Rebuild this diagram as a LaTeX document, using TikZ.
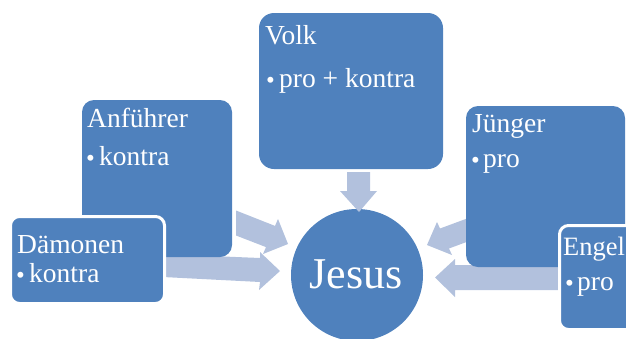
\documentclass[tikz,border=0pt]{standalone}
\usepackage{fontspec}
\setmainfont{Liberation Serif}
\definecolor{boxblue}{RGB}{79,129,189}
\definecolor{arrowblue}{RGB}{178,193,221}
\begin{document}
\begin{tikzpicture}[x=1pt,y=-1pt,
  bluebox/.style={fill=boxblue, draw=none, inner sep=0pt, outer sep=0pt, anchor=north west},
  framedbox/.style={fill=boxblue, draw=white, line width=3pt, inner sep=0pt, outer sep=0pt, anchor=north west, rounded corners=9pt},
  blockarrow/.style={fill=arrowblue, draw=none},
  label/.style={text=white, inner sep=0pt, anchor=base west, font=\fontsize{27.5}{30}\selectfont},
  bul/.style={text=white, inner sep=0pt, anchor=base west, font=\fontsize{25}{27}\selectfont},
  centre/.style={text=white, inner sep=0pt, anchor=base, font=\fontsize{44}{48}\selectfont}]
\useasboundingbox (0,0) rectangle (626,338);
\clip (0,0) rectangle (626,338);
% central circle
\node[circle, fill=boxblue, minimum size=132pt, inner sep=0pt] (jesuscircle) at (357,275) {};
% block arrows
\fill[blockarrow] (347,172) -- (370,172) -- (370,191) -- (377,191) -- (359,212) -- (340,191) -- (347,191) -- cycle;
\fill[blockarrow] (236,210.5) -- (275,225.9) -- (278,219) -- (288,244) -- (263,254) -- (266,247.1) -- (236,235.5) -- cycle;
\fill[blockarrow] (163,254) -- (260,258) -- (260,252) -- (280,271) -- (259,290) -- (260,282) -- (163,277) -- cycle;
\fill[blockarrow] (470,217.4) -- (440,228.5) -- (437,222) -- (427,245) -- (452,255) -- (449,248.5) -- (470,240.7) -- cycle;
\fill[blockarrow] (565,265) -- (455,265) -- (455,259) -- (435,277.5) -- (455,297) -- (455,290) -- (565,290) -- cycle;
% boxes
\node[bluebox, rounded corners=15pt, minimum width=184pt, minimum height=156pt] (volk) at (259,13) {};
\node[bluebox, rounded corners=12pt, minimum width=150pt, minimum height=157pt] (anf) at (82,100) {};
\node[bluebox, rounded corners=12pt, minimum width=159pt, minimum height=161pt] (jung) at (466,106) {};
\node[framedbox, minimum width=154pt, minimum height=87pt] (daem) at (10.5,216.5) {};
\node[framedbox, minimum width=90pt, minimum height=104pt] (engel) at (559.5,225.5) {};
% texts
\node[label] (tvolk) at (265,44) {Volk};
\node[bul] (bvolk) at (266,88) {•};
\node[label] (ivolk) at (279,87) {pro + kontra};
\node[label] (tanf) at (87,127) {Anführer};
\node[bul] (banf) at (86,166) {•};
\node[label] (ianf) at (99,165) {kontra};
\node[label] (tdaem) at (17,253) {Dämonen};
\node[bul] (bdaem) at (16,283) {•};
\node[label] (idaem) at (29,282) {kontra};
\node[label] (tjung) at (472,132) {Jünger};
\node[bul] (bjung) at (471,168) {•};
\node[label] (ijung) at (483,167) {pro};
\node[label, font=\fontsize{26.5}{29}\selectfont] (tengel) at (563,255) {Engel};
\node[bul] (bengel) at (565,291) {•};
\node[label] (iengel) at (577,290) {pro};
\node[centre] (tjesus) at (356,288) {Jesus};
\end{tikzpicture}
\end{document}
